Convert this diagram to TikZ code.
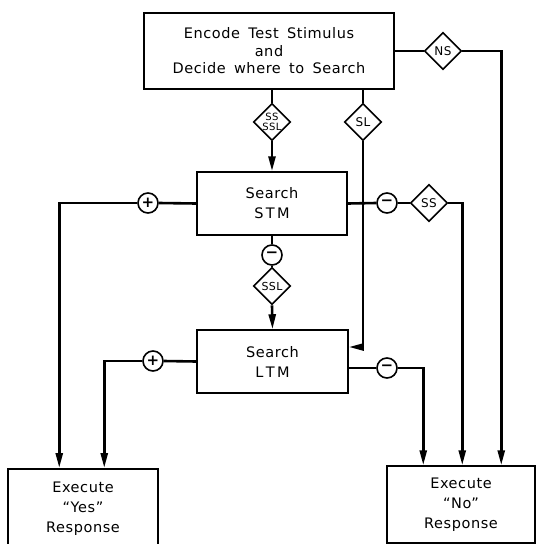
\documentclass[tikz,border=0pt]{standalone}
\usepackage{fontspec}
\setmainfont{DejaVu Sans}[LetterSpace=4,WordSpace=1.6]
\usetikzlibrary{shapes.geometric,arrows.meta,calc}
\begin{document}
\begin{tikzpicture}[x=1pt,y=-1pt,
  box/.style={draw,line width=1.5pt,rectangle,inner sep=0pt,align=center,font=\fontsize{14.5}{20}\selectfont},
  dia/.style={draw,line width=1.6pt,diamond,inner sep=0pt,minimum width=37pt,minimum height=37pt,fill=white,font=\fontsize{12}{10}\selectfont,align=center},
  sgn/.style={draw,line width=1.6pt,circle,inner sep=0pt,minimum size=20pt,fill=white,font=\fontsize{15}{15}\bfseries},
  conn/.style={line width=2.6pt},
  arr/.style={line width=2.6pt,-{Triangle[width=7pt,length=15pt]}}]
\useasboundingbox (0,0) rectangle (536,544);
\node[box,minimum width=250pt,minimum height=76pt,font=\fontsize{14.5}{17.5}\selectfont] (top) at (269,51) {Encode Test Stimulus\\and\\Decide where to Search};
\node[box,minimum width=150pt,minimum height=63pt] (stm) at (272,203.5) {Search\\S\,T\,M};
\node[box,minimum width=151pt,minimum height=63pt] (ltm) at (272.5,361.5) {Search\\L\,T\,M};
\node[box,minimum width=150pt,minimum height=80pt,anchor=north] (yes) at (83,468) {Execute\\``Yes''\\Response};
\node[box,minimum width=148pt,minimum height=77pt] (no) at (461,504.5) {Execute\\``No''\\Response};
% diamonds and signs
\node[dia] (ns) at (443,51) {NS};
\node[dia,font=\fontsize{10}{9.5}\selectfont] (dss) at (272,122) {SS\\SSL};
\node[dia] (dsl) at (363,122) {SL};
\node[dia] (dss2) at (429,203) {SS};
\node[dia,font=\fontsize{11}{10}\selectfont] (dssl) at (272,286) {SSL};
\node[sgn] (p1) at (148,203) {+};
\node[sgn] (m1) at (387,203) {−};
\node[sgn] (m2) at (272,255) {−};
\node[sgn] (p2) at (153,361) {+};
\node[sgn] (m3) at (387,368) {−};
% connectors
\draw[conn] (top.east) -- (ns.west);
\draw[arr] (ns.east) -| ([xshift=115pt]no.north west);
\draw[conn] (top.south -| dss) -- (dss.north);
\draw[arr] (dss.south) -- (stm.north);
\draw[conn] (top.south -| dsl) -- (dsl.north);
\draw[arr] (dsl.south) |- ([yshift=14.5pt]ltm.east);
\draw[conn] (stm.west) -- (p1.east);
\draw[arr] (p1.west) -| ([xshift=52pt]yes.north west);
\draw[conn] (stm.east) -- (m1.west);
\draw[conn] (m1.east) -- (dss2.west);
\draw[arr] (dss2.east) -| ([xshift=76pt]no.north west);
\draw[conn] (stm.south) -- (m2.north);
\draw[conn] (m2.south) -- (dssl.north);
\draw[arr] (dssl.south) -- (ltm.north);
\draw[conn] (ltm.west) -- (p2.east);
\draw[arr] (p2.west) -| ([xshift=97pt]yes.north west);
\draw[conn] ([yshift=-6.5pt]ltm.east) -- (m3.west);
\draw[arr] (m3.east) -| ([xshift=37pt]no.north west);
\end{tikzpicture}
\end{document}
